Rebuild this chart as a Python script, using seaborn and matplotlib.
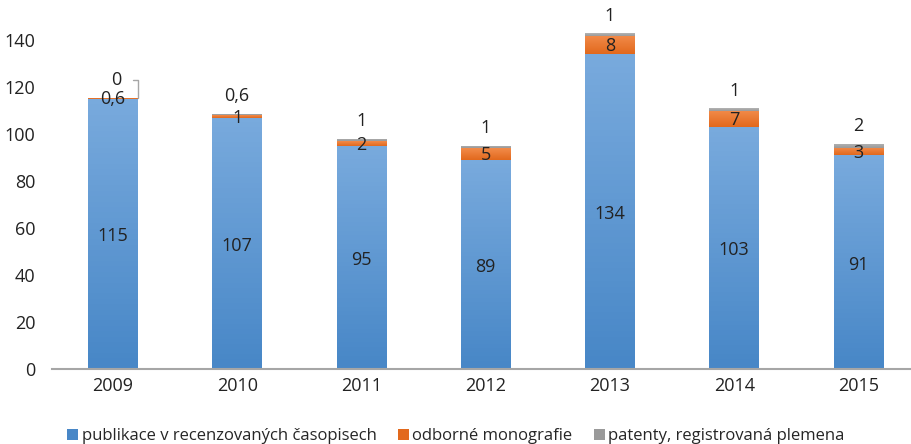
import numpy as np
import pandas as pd
import matplotlib
matplotlib.use("Agg")
import matplotlib.pyplot as plt
import matplotlib.colors as mcolors
from matplotlib.patches import Patch
import seaborn as sns

# Data ........................................................................

years = ["2009", "2010", "2011", "2012", "2013", "2014", "2015"]
publikace = [115, 107, 95, 89, 134, 103, 91]
monografie = [0.6, 1, 2, 5, 8, 7, 3]
patenty = [0, 0.6, 1, 1, 1, 1, 2]
series_names = ["publikace v recenzovaných časopisech", "odborné monografie",
                "patenty, registrovaná plemena"]

# Colours (top, bottom of gradient)
grads = [("#78aadd", "#4887c7"), ("#f28b4a", "#e2691d"), ("#b4b4b4", "#9a9a9a")]

sns.set_style("white")
plt.rcParams["font.family"] = ["Open Sans", "DejaVu Sans"]

df = pd.DataFrame({"year": years, "pub": publikace, "mono": monografie, "pat": patenty})
df["c0"] = 0.0
df["c1"] = df["pub"]
df["c2"] = df["pub"] + df["mono"]
df["c3"] = df["c2"] + df["pat"]

fig = plt.figure(figsize=(9.12, 4.44), dpi=100)
ax = fig.add_axes([0.057, 0.169, 0.943, 0.793])

# Stacked bars drawn as cumulative totals, largest at the back
for col, low, (top, bot) in zip(["c3", "c2", "c1"], ["c2", "c1", "c0"], grads[::-1]):
    n_before = len(ax.patches)
    sns.barplot(data=df, x="year", y=col, color=top, width=0.4, ax=ax,
                saturation=1, linewidth=0)
    cmap = mcolors.LinearSegmentedColormap.from_list("g", [bot, top])
    for i, p in enumerate(ax.patches[n_before:]):
        x0, w = p.get_x(), p.get_width()
        y0, y1 = df[low][i], df[col][i]
        if y1 - y0 <= 0:
            continue
        img = ax.imshow(np.linspace(1, 0, 50).reshape(-1, 1), cmap=cmap, aspect="auto",
                        extent=[x0, x0 + w, y0, y1], zorder=p.get_zorder(),
                        vmin=0, vmax=1)
        img.set_clip_path(p)

ax.set_xlim(-0.49, 6.43)
ax.set_ylim(0, 150)
ax.set_yticks(range(0, 141, 20))
ax.set_xlabel("")
ax.set_ylabel("")
sns.despine(ax=ax, left=True)
ax.spines["bottom"].set_color("#a6a6a6")
ax.spines["bottom"].set_linewidth(1.5)
ax.tick_params(axis="both", labelsize=13, colors="#222222", length=0)
ax.tick_params(axis="x", pad=6)
ax.tick_params(axis="y", pad=12)

# Data labels
def fmt(v):
    return f"{v:g}".replace(".", ",")

for i in range(len(years)):
    ax.text(i, publikace[i] / 2 - 1, fmt(publikace[i]), ha="center", va="center",
            fontsize=13, color="#222222")
    ax.text(i, df["c1"][i] + monografie[i] / 2 - 0.5, fmt(monografie[i]), ha="center",
            va="center", fontsize=13, color="#222222")
    if i == 0:
        ax.annotate(fmt(patenty[i]), xy=(i + 0.2, df["c3"][i]), xytext=(i + 0.03, 123),
                    ha="center", va="center", fontsize=13, color="#222222",
                    arrowprops=dict(arrowstyle="-", color="#a6a6a6", lw=1,
                                    connectionstyle="angle,angleA=0,angleB=90,rad=0",
                                    shrinkA=6, shrinkB=0))
    else:
        ax.text(i, df["c3"][i] + 7.5, fmt(patenty[i]), ha="center", va="center",
                fontsize=13, color="#222222")

handles = [Patch(facecolor=c[1], edgecolor="none") for c in grads]
fig.legend(handles, series_names, loc="center", bbox_to_anchor=(0.5, 0.018), ncol=3,
           frameon=False, fontsize=12, handlelength=0.65, handleheight=0.65,
           handletextpad=0.2, columnspacing=1.3)

fig.savefig("out.png", dpi=100)
